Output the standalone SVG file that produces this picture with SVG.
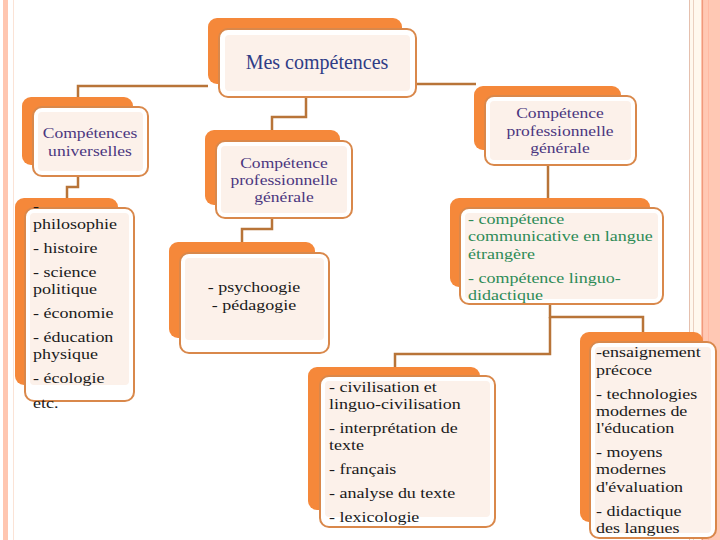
<svg xmlns="http://www.w3.org/2000/svg" width="720" height="540" viewBox="0 0 720 540">
<style>
.back{fill:#F5883A}
.front{fill:#ffffff;stroke:#D9884B;stroke-width:2}
.inner{fill:#FCF1EA}
.conn{stroke:#B87438;stroke-width:2.5;fill:none}
.title{fill:#2F3C86}
.purple{fill:#4B3780}
.black{fill:#1a1a1a}
.green{fill:#2E8B57}
</style>
<rect width="720" height="540" fill="#ffffff"/>
<g id="decor">
<rect x="3" y="0" width="5" height="540" fill="#FFC6B0"/>
<line x1="13.5" y1="0" x2="13.5" y2="540" stroke="#FBE3D6" stroke-width="1"/>
<rect x="690" y="0" width="12" height="540" fill="#FFF8EE"/>
<line x1="689.5" y1="0" x2="689.5" y2="540" stroke="#E5C0AE" stroke-width="1"/>
<line x1="693.5" y1="0" x2="693.5" y2="540" stroke="#EBD0C0" stroke-width="1"/>
<rect x="701" y="0" width="19" height="540" fill="#FFC8B4"/>
<line x1="702.5" y1="0" x2="702.5" y2="540" stroke="#F09A7C" stroke-width="1.2"/>
<line x1="708.5" y1="0" x2="708.5" y2="540" stroke="#FFB9A3" stroke-width="1"/>
</g>
<g id="connectors">
<path class="conn" d="M208,86 H78 V97"/>
<path class="conn" d="M306,97 V117 H272 V130"/>
<path class="conn" d="M416,84 H476"/>
<path class="conn" d="M78,176 V187 H67 V198"/>
<path class="conn" d="M272,218 V229 H242 V242"/>
<path class="conn" d="M548,165 V198"/>
<path class="conn" d="M550,304 V317 H643 V332"/>
<path class="conn" d="M550,317 V354 H395 V367"/>
</g>
<g id="n1">
<rect class="back" x="208" y="18" width="194" height="66" rx="9"/>
<rect class="front" x="219" y="29" width="197" height="68" rx="9"/>
<rect class="inner" x="225" y="35" width="185" height="56" rx="4"/>
<text class="title" font-family="'Liberation Serif', serif" font-size="20" x="317" y="69" text-anchor="middle">Mes compétences</text>
</g>
<g id="n2">
<rect class="back" x="22" y="97" width="111" height="68" rx="9"/>
<rect class="front" x="33" y="107" width="115" height="69" rx="9"/>
<rect class="inner" x="38" y="112" width="105" height="59" rx="4"/>
<text class="purple" font-family="'Liberation Serif', serif" font-size="15" text-anchor="middle" transform="translate(90 0) scale(1.17 1)"><tspan x="0" y="138">Compétences</tspan><tspan x="0" y="156">universelles</tspan></text>
</g>
<g id="n3">
<rect class="back" x="205" y="130" width="135" height="75" rx="9"/>
<rect class="front" x="216" y="141" width="136" height="77" rx="9"/>
<rect class="inner" x="221" y="146" width="126" height="67" rx="4"/>
<text class="purple" font-family="'Liberation Serif', serif" font-size="15" text-anchor="middle" transform="translate(284 0) scale(1.17 1)"><tspan x="0" y="168">Compétence</tspan><tspan x="0" y="185">professionnelle</tspan><tspan x="0" y="202">générale</tspan></text>
</g>
<g id="n4">
<rect class="back" x="474" y="86" width="147" height="64" rx="9"/>
<rect class="front" x="485" y="96" width="151" height="69" rx="9"/>
<rect class="inner" x="490" y="101" width="141" height="59" rx="4"/>
<text class="purple" font-family="'Liberation Serif', serif" font-size="15" text-anchor="middle" transform="translate(560 0) scale(1.17 1)"><tspan x="0" y="118">Compétence</tspan><tspan x="0" y="136">professionnelle</tspan><tspan x="0" y="153">générale</tspan></text>
</g>
<g id="n5">
<rect class="back" x="15" y="198" width="103" height="187" rx="9"/>
<rect class="front" x="25" y="208" width="109" height="193" rx="9"/>
<rect class="inner" x="30" y="213" width="99" height="172" rx="4"/>
<text class="black" font-family="'Liberation Serif', serif" font-size="15" transform="translate(33 0) scale(1.2 1)"><tspan x="0" y="211">-</tspan><tspan x="0" y="229">philosophie</tspan><tspan x="0" y="253">- histoire</tspan><tspan x="0" y="277">- science</tspan><tspan x="0" y="294">politique</tspan><tspan x="0" y="318">- économie</tspan><tspan x="0" y="342">- éducation</tspan><tspan x="0" y="359">physique</tspan><tspan x="0" y="383">- écologie</tspan><tspan x="0" y="408">etc.</tspan></text>
</g>
<g id="n6">
<rect class="back" x="169" y="242" width="146" height="96" rx="9"/>
<rect class="front" x="180" y="253" width="149" height="100" rx="9"/>
<rect class="inner" x="185" y="258" width="139" height="82" rx="4"/>
<text class="black" font-family="'Liberation Serif', serif" font-size="15" text-anchor="middle" transform="translate(254 0) scale(1.2 1)"><tspan x="0" y="292">- psychoogie</tspan><tspan x="0" y="310">- pédagogie</tspan></text>
</g>
<g id="n7">
<rect class="back" x="450" y="198" width="200" height="89" rx="9"/>
<rect class="front" x="460" y="208" width="203" height="96" rx="9"/>
<rect class="inner" x="465" y="213" width="193" height="86" rx="4"/>
<text class="green" font-family="'Liberation Serif', serif" font-size="15" transform="translate(468 0) scale(1.2 1)"><tspan x="0" y="224">- compétence</tspan><tspan x="0" y="241">communicative en langue</tspan><tspan x="0" y="259">étrangère</tspan><tspan x="0" y="283">- compétence linguo-</tspan><tspan x="0" y="300">didactique</tspan></text>
</g>
<g id="n8">
<rect class="back" x="308" y="367" width="172" height="143" rx="9"/>
<rect class="front" x="320" y="376" width="175" height="151" rx="9"/>
<rect class="inner" x="325" y="381" width="165" height="136" rx="4"/>
<text class="black" font-family="'Liberation Serif', serif" font-size="15" transform="translate(329 0) scale(1.2 1)"><tspan x="0" y="392">- civilisation et</tspan><tspan x="0" y="409">linguo-civilisation</tspan><tspan x="0" y="433">- interprétation de</tspan><tspan x="0" y="450">texte</tspan><tspan x="0" y="474">- français</tspan><tspan x="0" y="498">- analyse du texte</tspan><tspan x="0" y="522">- lexicologie</tspan></text>
</g>
<g id="n9">
<rect class="back" x="580" y="332" width="123" height="190" rx="9"/>
<rect class="front" x="590" y="342" width="126" height="196" rx="9"/>
<rect class="inner" x="595" y="347" width="116" height="186" rx="4"/>
<text class="black" font-family="'Liberation Serif', serif" font-size="15" transform="translate(596 0) scale(1.2 1)"><tspan x="0" y="357">-ensaignement</tspan><tspan x="0" y="375">précoce</tspan><tspan x="0" y="399">- technologies</tspan><tspan x="0" y="416">modernes de</tspan><tspan x="0" y="433">l'éducation</tspan><tspan x="0" y="457">- moyens</tspan><tspan x="0" y="474">modernes</tspan><tspan x="0" y="492">d'évaluation</tspan><tspan x="0" y="516">- didactique</tspan><tspan x="0" y="533">des langues</tspan></text>
</g>
</svg>
